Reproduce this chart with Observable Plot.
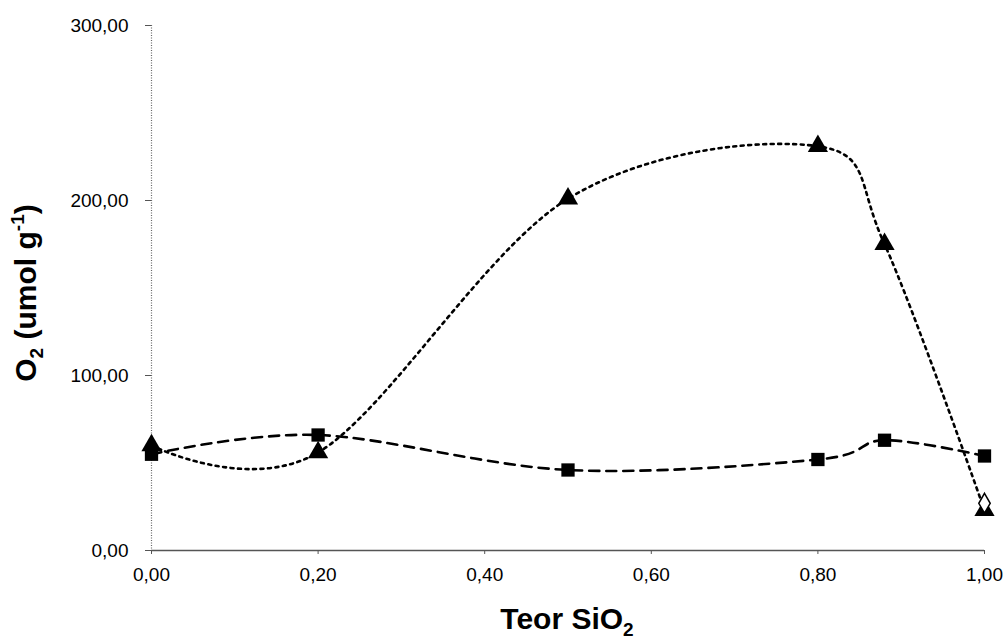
<!DOCTYPE html>
<html><head><meta charset="utf-8">
<script src="https://cdn.jsdelivr.net/npm/d3@7"></script>
<script src="https://cdn.jsdelivr.net/npm/@observablehq/plot@0.6"></script>
<style>body{margin:0;background:#fff;overflow:hidden}</style>
</head><body><div id="chart"></div>
<script>
// Data
const xTeor = [0, 0.2, 0.5, 0.8, 0.88, 1.0];
const triangleO2 = [60, 56, 201, 231, 175, 23];
const squareO2 = [55, 66, 46, 52, 63, 54];
const diamondX = [1.0];
const diamondO2 = [27];
const yTicks = [0, 100, 200, 300];
const xTicks = [0, 0.2, 0.4, 0.6, 0.8, 1.0];
const xTitle = "Teor SiO";
const yTitle = "O";

const fmt = d => d.toFixed(2).replace(".", ",");
const tri = xTeor.map((x, i) => ({x, y: triangleO2[i]}));
const sq = xTeor.map((x, i) => ({x, y: squareO2[i]}));
const dia = diamondX.map((x, i) => ({x, y: diamondO2[i]}));

const plot = Plot.plot({
  width: 1003, height: 644,
  marginLeft: 151, marginRight: 19, marginTop: 25, marginBottom: 94,
  style: {fontFamily: "'Liberation Sans', Arial, sans-serif", fontSize: "19px", background: "white", color: "black"},
  x: {domain: [0, 1]},
  y: {domain: [0, 300]},
  marks: [
    Plot.ruleX([0], {stroke: "#666", strokeDasharray: "1,1.5", strokeWidth: 1.2}),
    Plot.ruleY([0], {stroke: "#555", strokeWidth: 1.6}),
    Plot.axisY({ticks: yTicks, tickFormat: fmt, tickSize: 6, tickPadding: 17, label: null, stroke: "#555"}),
    Plot.axisX({ticks: xTicks, tickFormat: fmt, tickSize: 4, tickPadding: 13, label: null, stroke: "#555"}),
    Plot.line(sq, {x: "x", y: "y", curve: "cardinal", stroke: "black", strokeDasharray: "10,7", strokeWidth: 2.6}),
    Plot.line(tri, {x: "x", y: "y", curve: "cardinal", stroke: "black", strokeDasharray: "3,4.5", strokeWidth: 2.6}),
    Plot.dot(sq, {x: "x", y: "y", symbol: "square", r: 7.5, fill: "black"}),
    Plot.dot(tri, {x: "x", y: "y", symbol: "triangle", r: 7.5, fill: "black"}),
    Plot.dot(dia, {x: "x", y: "y", symbol: "diamond", r: 6, fill: "white", stroke: "black", strokeWidth: 1.5})
  ]
});

const svg = d3.select(plot);
const yt = svg.append("text")
  .attr("transform", "translate(36,293) rotate(-90)")
  .attr("text-anchor", "middle")
  .attr("font-weight", "bold").attr("font-size", 30)
  .attr("font-family", "'Liberation Sans', Arial, sans-serif").attr("fill", "black");
yt.append("tspan").text(yTitle);
yt.append("tspan").attr("font-size", 19).attr("dy", 7).text("2");
yt.append("tspan").attr("dy", -7).text(" (umol g");
yt.append("tspan").attr("font-size", 19).attr("dy", -12).text("-1");
yt.append("tspan").attr("dy", 12).text(")");

const xt = svg.append("text")
  .attr("x", 567).attr("y", 629)
  .attr("text-anchor", "middle")
  .attr("font-weight", "bold").attr("font-size", 30)
  .attr("font-family", "'Liberation Sans', Arial, sans-serif").attr("fill", "black");
xt.append("tspan").text(xTitle);
xt.append("tspan").attr("font-size", 19).attr("dy", 7).text("2");

document.getElementById("chart").appendChild(plot);
</script>
</body></html>
